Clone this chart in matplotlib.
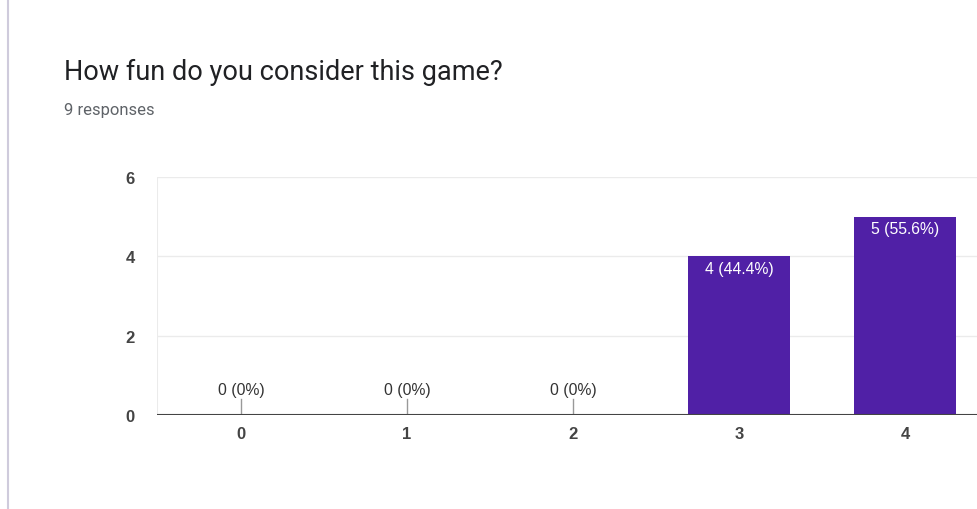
import matplotlib.pyplot as plt
from matplotlib.lines import Line2D

# survey answers
categories = ["0", "1", "2", "3", "4"]
counts = [0, 0, 0, 4, 5]
percent = ["0%", "0%", "0%", "44.4%", "55.6%"]
yticks = [0, 2, 4, 6]

bar_color = "#5020a6"

fig = plt.figure(figsize=(9.78, 5.10), dpi=100)
fig.patch.set_facecolor("white")

# axes spills over the right edge, like the cropped form view
ax = fig.add_axes([157 / 978, 94 / 510, 831 / 978, 238 / 510])

x = range(len(categories))
ax.bar(x, counts, width=0.615, color=bar_color, zorder=3)

for i, (c, p) in enumerate(zip(counts, percent)):
    label = f"{c} ({p})"
    if c > 0:
        ax.text(i, c - 0.12, label, ha="center", va="top", color="white",
                fontsize=11.3, family="Liberation Sans", zorder=4)
    else:
        ax.plot([i, i], [0, 0.4], color="#999999", lw=1, zorder=4)
        ax.text(i, 0.45, label, ha="center", va="bottom", color="#333333",
                fontsize=11.3, family="Liberation Sans", zorder=4)

ax.set_xlim(-0.505, 4.5)
ax.set_ylim(0, 6)
ax.set_yticks(yticks)
ax.set_xticks(list(x))
ax.set_xticklabels(categories)
ax.grid(axis="y", color="#ebebeb", lw=1, zorder=0)
ax.axvline(-0.505, color="#ebebeb", lw=1.5, zorder=0)
ax.axhline(0, color="#444444", lw=1.5, zorder=5)

for s in ax.spines.values():
    s.set_visible(False)
ax.tick_params(length=0, labelsize=12, labelcolor="#444444")
ax.tick_params(axis="y", pad=16)
ax.tick_params(axis="x", pad=8)
for lbl in ax.get_xticklabels() + ax.get_yticklabels():
    lbl.set_family("Liberation Sans")
    lbl.set_fontweight("bold")

fig.text(64 / 978, 1 - 72 / 510, "How fun do you consider this game?",
         fontsize=19.5, family="Roboto", color="#202124", va="center")
fig.text(64 / 978, 1 - 110 / 510, "9 responses",
         fontsize=12, family="Roboto", color="#5f6368", va="center")

# card border on the left
fig.add_artist(Line2D([8 / 978, 8 / 978], [0, 1], color="#cfcbdc", lw=1.5))

fig.savefig("out.png", dpi=100)
